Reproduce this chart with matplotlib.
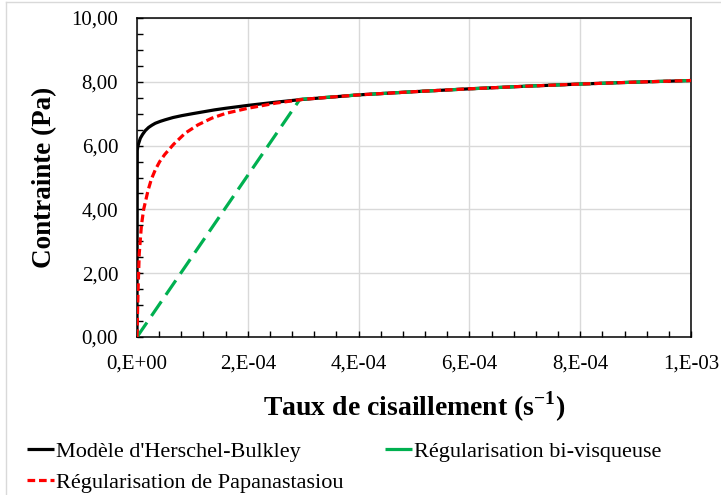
import matplotlib
matplotlib.use("Agg")
import matplotlib.pyplot as plt
from matplotlib.ticker import MultipleLocator, FixedLocator, FixedFormatter
from matplotlib.lines import Line2D

# ---------------- data ----------------
hb_rate = [0.0, 5e-7, 1.5e-6, 3e-6, 6e-6, 1.0e-5, 1.5e-5, 2.1e-5, 2.7e-5, 3.3e-5,
           4.2e-5, 5.1e-5, 6.5e-5, 8.1e-5, 1.0e-4, 1.2e-4, 1.4e-4, 1.6e-4,
           2.0e-4, 2.5e-4, 3.0e-4, 4.0e-4, 5.0e-4, 6.0e-4, 7.0e-4, 8.0e-4,
           9.0e-4, 1.0e-3]
hb_stress = [0.0, 5.85, 5.97, 6.07, 6.23, 6.35, 6.47, 6.57, 6.64, 6.70,
             6.76, 6.81, 6.88, 6.94, 7.00, 7.06, 7.12, 7.17,
             7.26, 7.36, 7.45, 7.59, 7.69, 7.78, 7.86, 7.93,
             7.99, 8.04]

bi_rate = [0.0, 2.94e-4, 4.0e-4, 5.0e-4, 6.0e-4, 7.0e-4, 8.0e-4, 9.0e-4, 1.0e-3]
bi_stress = [0.0, 7.45, 7.59, 7.69, 7.78, 7.86, 7.93, 7.99, 8.04]

pap_rate = [0.0, 1e-6, 2e-6, 4e-6, 8e-6, 1.2e-5, 2.0e-5, 2.6e-5, 3.3e-5, 4.1e-5,
            5.0e-5, 6.6e-5, 8.7e-5, 1.1e-4, 1.35e-4, 1.6e-4, 2.0e-4, 2.5e-4,
            3.0e-4, 4.0e-4, 5.0e-4, 6.0e-4, 7.0e-4, 8.0e-4, 9.0e-4, 1.0e-3]
pap_stress = [0.0, 0.8, 1.5, 2.6, 3.5, 4.0, 4.6, 4.95, 5.24, 5.5,
              5.72, 6.04, 6.39, 6.65, 6.86, 7.01, 7.17, 7.33,
              7.45, 7.59, 7.69, 7.78, 7.86, 7.93, 7.99, 8.04]

x_ticks = [0.0, 2e-4, 4e-4, 6e-4, 8e-4, 1e-3]
x_tick_labels = ["0,E+00", "2,E-04", "4,E-04", "6,E-04", "8,E-04", "1,E-03"]
y_ticks = [0, 2, 4, 6, 8, 10]
y_tick_labels = ["0,00", "2,00", "4,00", "6,00", "8,00", "10,00"]

labels = ["Modèle d'Herschel-Bulkley", "Régularisation bi-visqueuse",
          "Régularisation de Papanastasiou"]

# ---------------- style ----------------
plt.rcParams['font.family'] = ['Liberation Serif', 'DejaVu Serif']
plt.rcParams['mathtext.fontset'] = 'custom'
plt.rcParams['mathtext.rm'] = 'Liberation Serif'
plt.rcParams['mathtext.bf'] = 'Liberation Serif:bold'

fig = plt.figure(figsize=(7.21, 4.95), dpi=100)
ax = fig.add_axes([137/721, 1 - 337/495, (691 - 137)/721, (337 - 18)/495])

lw = 2.3
l_hb, = ax.plot(hb_rate, hb_stress, color='black', lw=lw, zorder=3,
                solid_capstyle='butt', solid_joinstyle='round')
l_bi, = ax.plot(bi_rate, bi_stress, color='#00b050', lw=lw, zorder=4,
                dashes=(5.5, 2.5), dash_capstyle='butt')
l_pap, = ax.plot(pap_rate, pap_stress, color='#ff0000', lw=lw, zorder=5,
                 dashes=(2.4, 1.2), dash_capstyle='butt')

ax.set_xlim(0, 1e-3)
ax.set_ylim(0, 10)
ax.xaxis.set_major_locator(FixedLocator(x_ticks))
ax.xaxis.set_major_formatter(FixedFormatter(x_tick_labels))
ax.yaxis.set_major_locator(FixedLocator(y_ticks))
ax.yaxis.set_major_formatter(FixedFormatter(y_tick_labels))
ax.xaxis.set_minor_locator(MultipleLocator(4e-5))
ax.yaxis.set_minor_locator(MultipleLocator(0.5))

ax.grid(True, which='major', color='#d9d9d9', lw=1.0, zorder=0)
ax.set_axisbelow(True)
ax.tick_params(which='both', direction='in', length=4, width=1, colors='black',
               labelsize=15, top=False, right=False)
ax.tick_params(axis='x', which='major', pad=12.5)
ax.tick_params(axis='y', which='major', pad=13.5)
for s in ['top', 'right', 'left', 'bottom']:
    ax.spines[s].set_color('black')
    ax.spines[s].set_linewidth(1.1)

ax.set_xlabel("Taux de cisaillement (s$^{\\mathbf{-1}}$)", fontsize=20,
              fontweight='bold', labelpad=12)
ax.set_ylabel("Contrainte (Pa)", fontsize=19.5, fontweight='bold', labelpad=10)

# legend proxy for the green series (its long dash shows as a solid stroke)
bi_handle = Line2D([], [], color='#00b050', lw=lw, solid_capstyle='butt')

leg_kw = dict(frameon=False, handlelength=1.2, handletextpad=0.12,
              labelspacing=0.5, borderaxespad=0, borderpad=0,
              prop={'family': ['Liberation Serif', 'DejaVu Serif'], 'size': 16})
fig.legend([l_hb, l_pap], [labels[0], labels[2]], loc='upper left',
           bbox_to_anchor=(27/721, 1 - 441/495), **leg_kw)
fig.legend([bi_handle], [labels[1]], loc='upper left',
           bbox_to_anchor=(385/721, 1 - 441/495), **leg_kw)

# chart-area border (top and left)
fig.add_artist(Line2D([6/721, 6/721], [0, 1 - 2/495], color='#d9d9d9', lw=1,
                      transform=fig.transFigure))
fig.add_artist(Line2D([6/721, 1], [1 - 2/495, 1 - 2/495], color='#d9d9d9', lw=1,
                      transform=fig.transFigure))

fig.savefig("out.png", dpi=100)
